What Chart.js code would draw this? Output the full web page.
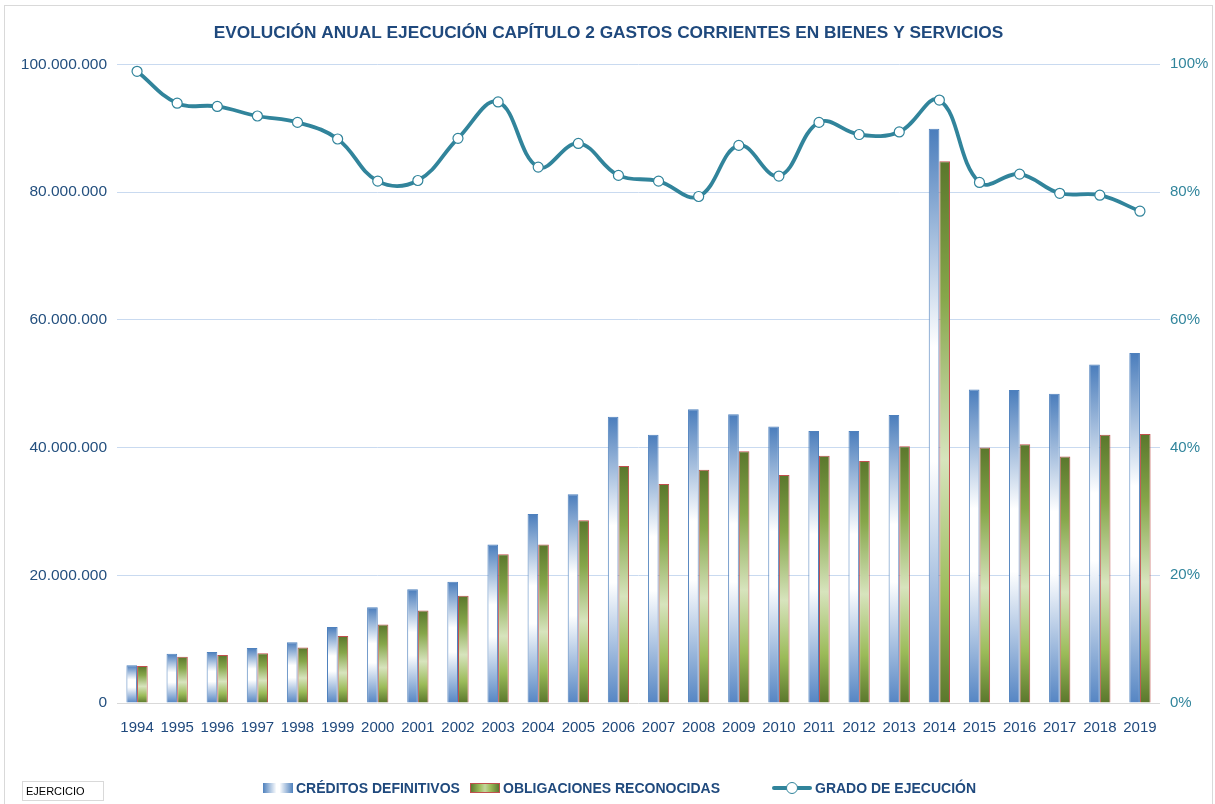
<!DOCTYPE html>
<html>
<head>
<meta charset="utf-8">
<script src="https://cdn.jsdelivr.net/npm/chart.js@4.4.1/dist/chart.umd.min.js"></script>
<style>
    html, body { margin: 0; padding: 0; background: #fff; }
    #wrap { position: relative; width: 1215px; height: 804px; }
    #frame { position: absolute; left: 4px; top: 5px; right: 2px; bottom: -2px; border: 1px solid #d9d9d9; pointer-events: none; }
    #leyenda { position: absolute; left: 0; top: 779px; width: 1215px; height: 18px;
        font-family: "Liberation Sans", Arial, sans-serif; font-weight: bold; font-size: 14px; color: #1f497d; }
    .item { position: absolute; top: 0; display: flex; align-items: center; height: 18px; white-space: nowrap; }
    .caja { width: 30px; height: 10px; margin-right: 3px; }
    .caja.azul { background: linear-gradient(to right, #4f81bd, #ffffff 45%, #ffffff 55%, #4f81bd); }
    .caja.verde { background: linear-gradient(to right, #5e7a30, #9bbb59 30%, #c3d69b 50%, #9bbb59 70%, #5e7a30); border: 1px solid #c0504d; box-sizing: border-box; }
    .marca { position: relative; width: 40px; height: 12px; margin-right: 3px; }
    .marca .linea { position: absolute; left: 0; right: 0; top: 4px; height: 4px; background: #31849b; border-radius: 2px; }
    .marca .punto { position: absolute; left: 14px; top: 0; width: 10px; height: 10px; border-radius: 50%; background: #fff; border: 1px solid #31849b; }
    #ejercicio { position: absolute; left: 22px; top: 781px; width: 82px; height: 20px; border: 1px solid #d9d9d9; box-sizing: border-box;
        font-family: "Liberation Sans", Arial, sans-serif; font-size: 11px; line-height: 19px; padding-left: 3px; color: #000; }
</style>
</head>
<body>
<div id="wrap">
    <canvas id="grafico" width="1215" height="804"></canvas>
    <div id="frame"></div>
    <div id="ejercicio">EJERCICIO</div>
    <div id="leyenda">
        <div class="item" style="left: 263px;"><div class="caja azul"></div>CRÉDITOS DEFINITIVOS</div>
        <div class="item" style="left: 470px;"><div class="caja verde"></div>OBLIGACIONES RECONOCIDAS</div>
        <div class="item" style="left: 772px;"><div class="marca"><div class="linea"></div><div class="punto"></div></div>GRADO DE EJECUCIÓN</div>
    </div>
</div>
<script>
// Datos
const anios = ['1994', '1995', '1996', '1997', '1998', '1999', '2000', '2001', '2002', '2003', '2004', '2005', '2006',
    '2007', '2008', '2009', '2010', '2011', '2012', '2013', '2014', '2015', '2016', '2017', '2018', '2019'];

const creditosDefinitivos = [5900000, 7700000, 8000000, 8600000, 9500000, 11900000, 15000000, 17800000, 19000000,
    24800000, 29600000, 32700000, 44800000, 42000000, 46000000, 45200000, 43300000, 42600000, 42600000, 45100000,
    89900000, 49100000, 49000000, 48400000, 53000000, 54800000];

const obligacionesReconocidas = [5800000, 7250000, 7500000, 7800000, 8700000, 10500000, 12300000, 14500000, 16800000,
    23300000, 24800000, 28600000, 37100000, 34300000, 36500000, 39400000, 35700000, 38700000, 37900000, 40200000,
    84800000, 40000000, 40500000, 38600000, 42000000, 42100000];

const gradoEjecucion = [98.9, 93.9, 93.4, 91.9, 90.9, 88.3, 81.7, 81.8, 88.4, 94.1, 83.9, 87.6, 82.6, 81.7, 79.3,
    87.3, 82.5, 90.9, 89.0, 89.4, 94.4, 81.5, 82.8, 79.8, 79.5, 77.0];

const FUENTE = '"Liberation Sans", Arial, sans-serif';

// Degradado vertical por barra (como el relleno de Excel)
function degradado(stops, liso) {
    return (c) => {
        const chart = c.chart;
        if (c.type !== 'data' || !chart.chartArea) return liso;
        const y = chart.scales.y;
        const top = y.getPixelForValue(c.raw);
        const bottom = y.getPixelForValue(0);
        if (!isFinite(top) || !isFinite(bottom) || top === bottom) return liso;
        const g = chart.ctx.createLinearGradient(0, top, 0, bottom);
        stops.forEach(s => g.addColorStop(s[0], s[1]));
        return g;
    };
}

const stopsAzul = [[0, '#4a7dbc'], [0.38, '#ffffff'], [0.58, '#ffffff'], [1, '#5585c3']];
const stopsVerde = [[0, '#5a772c'], [0.25, '#86a64a'], [0.55, '#d7e4bd'], [0.8, '#9bbb59'], [1, '#5a772c']];

const miles = v => String(v).replace(/\B(?=(\d{3})+(?!\d))/g, '.');

new Chart(document.getElementById('grafico'), {
    type: 'bar',
    data: {
        labels: anios,
        datasets: [
            {
                type: 'line',
                label: 'GRADO DE EJECUCIÓN',
                data: gradoEjecucion,
                yAxisID: 'y1',
                borderColor: '#31849b',
                borderWidth: 3.8,
                tension: 0.4,
                pointRadius: 5,
                pointBackgroundColor: '#ffffff',
                pointBorderColor: '#31849b',
                pointBorderWidth: 1.2,
                order: 0
            },
            {
                label: 'CRÉDITOS DEFINITIVOS',
                data: creditosDefinitivos,
                yAxisID: 'y',
                backgroundColor: degradado(stopsAzul, '#8eaedb'),
                borderColor: '#4f81bd',
                borderWidth: 1,
                barPercentage: 1,
                categoryPercentage: 0.53,
                order: 1
            },
            {
                label: 'OBLIGACIONES RECONOCIDAS',
                data: obligacionesReconocidas,
                yAxisID: 'y',
                backgroundColor: degradado(stopsVerde, '#9bbb59'),
                borderColor: '#c0504d',
                borderWidth: 1,
                barPercentage: 1,
                categoryPercentage: 0.53,
                order: 1
            }
        ]
    },
    options: {
        responsive: false,
        animation: false,
        layout: { padding: { left: 8, right: 6, top: 0, bottom: 61 } },
        plugins: {
            legend: { display: false },
            tooltip: { enabled: false },
            title: {
                display: true,
                text: 'EVOLUCIÓN ANUAL EJECUCIÓN CAPÍTULO 2 GASTOS CORRIENTES EN BIENES Y SERVICIOS',
                color: '#1f497d',
                font: { family: FUENTE, size: 17.3, weight: 'bold' },
                padding: { top: 22.5, bottom: 21 }
            }
        },
        scales: {
            x: {
                grid: { display: false },
                border: { display: false },
                ticks: { color: '#1f497d', font: { family: FUENTE, size: 15 }, padding: 8, maxRotation: 0 },
                afterFit: s => { s.height = 40; }
            },
            y: {
                position: 'left',
                min: 0,
                max: 100000000,
                ticks: { stepSize: 20000000, color: '#24507f', font: { family: FUENTE, size: 15.5 }, padding: 10, callback: v => miles(v) },
                grid: { color: c => c.tick && c.tick.value === 0 ? '#d9d9d9' : '#c9daf0', lineWidth: 1, drawTicks: false },
                border: { display: false },
                afterFit: s => { s.width = 109; }
            },
            y1: {
                position: 'right',
                min: 0,
                max: 100,
                ticks: { stepSize: 20, color: '#31859c', font: { family: FUENTE, size: 15 }, padding: 10, callback: v => v + '%' },
                grid: { display: false, drawTicks: false },
                border: { display: false },
                afterFit: s => { s.width = 49; }
            }
        }
    }
});
</script>
</body>
</html>
